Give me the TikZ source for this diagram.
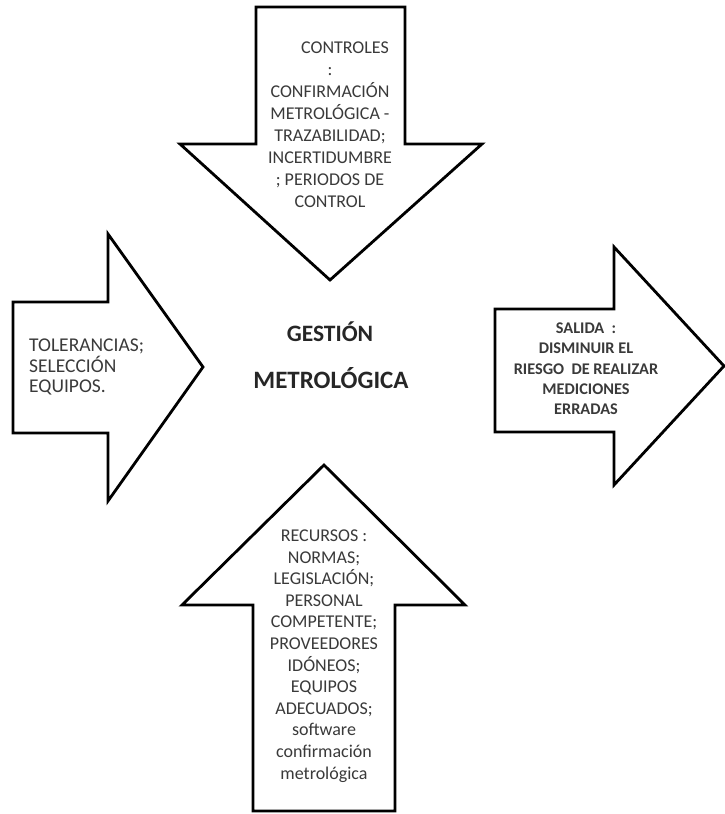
\documentclass[tikz,border=0pt]{standalone}
\usepackage{fontspec}
\setmainfont{Carlito}
\definecolor{txt}{HTML}{3A3A3A}
\tikzset{
  arrowshape/.style={draw=black, line width=2.8pt, fill=white, line join=miter},
  bodytext/.style={text=txt, inner sep=0pt, font=\fontsize{18}{21.6}\selectfont},
  boldtext/.style={text=txt, inner sep=0pt, font=\bfseries\fontsize{16.3}{20.3}\selectfont},
  titletext/.style={text=black!85, inner sep=0pt, font=\bfseries\fontsize{23.5}{28}\selectfont}
}
\begin{document}
\begin{tikzpicture}[x=1pt,y=-1pt]
\useasboundingbox (0,0) rectangle (724,814);
% top arrow (down)
\draw[arrowshape] (256,7) -- (405,7) -- (405,144) -- (482,144) -- (330,280) -- (180,144) -- (256,144) -- cycle;
% left arrow (right)
\draw[arrowshape] (13,302) -- (108,302) -- (108,234) -- (203,367) -- (108,501) -- (108,433) -- (13,433) -- cycle;
% right arrow (right)
\draw[arrowshape] (495,309) -- (614,309) -- (614,247) -- (724,366) -- (614,485) -- (614,432) -- (495,432) -- cycle;
% bottom arrow (up)
\draw[arrowshape] (324,465) -- (465,605) -- (395,605) -- (395,811) -- (253,811) -- (253,605) -- (182,605) -- cycle;

\node[bodytext, align=center, font=\fontsize{18}{22}\selectfont] (controles) at (330,125)
  {\hspace*{30pt}CONTROLES\\:\\CONFIRMACIÓN\\METROLÓGICA -\\TRAZABILIDAD;\\INCERTIDUMBRE\\; PERIODOS DE\\CONTROL};
\node[bodytext, align=left, anchor=west, font=\fontsize{19.5}{20.5}\selectfont] (tolerancias) at (29,367)
  {TOLERANCIAS;\\SELECCIÓN\\EQUIPOS.};
\node[boldtext, align=center] (salida) at (586,369)
  {SALIDA\ \ :\\DISMINUIR EL\\RIESGO\ \ DE REALIZAR\\MEDICIONES\\ERRADAS};
\node[bodytext, align=center] (recursos) at (324,656)
  {RECURSOS :\\NORMAS;\\LEGISLACIÓN;\\PERSONAL\\COMPETENTE;\\PROVEEDORES\\IDÓNEOS;\\EQUIPOS\\ADECUADOS;\\software\\confirmación\\metrológica};
\node[titletext] (gestion) at (330,332) {GESTIÓN};
\node[titletext, font=\bfseries\fontsize{25}{28}\selectfont] (metrologica) at (331,378) {METROLÓGICA};
\end{tikzpicture}
\end{document}
